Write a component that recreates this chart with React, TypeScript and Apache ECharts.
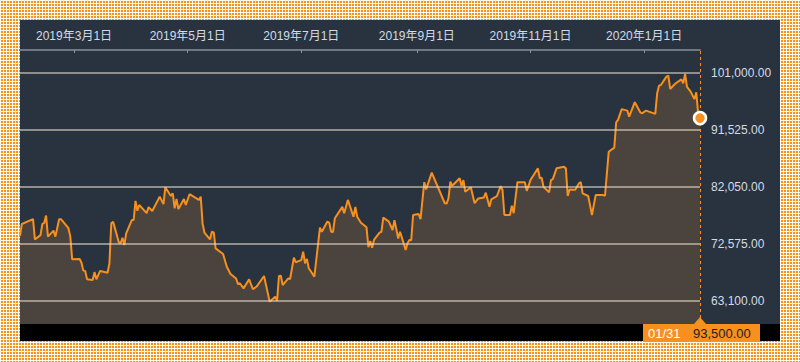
import React, { useEffect, useRef } from 'react';
import * as echarts from 'echarts';

const dates: string[] = [
  '2019-01-31','2019-02-01','2019-02-07','2019-02-08','2019-02-11','2019-02-12','2019-02-13','2019-02-14','2019-02-15','2019-02-18',
  '2019-02-19','2019-02-21','2019-02-22','2019-02-26','2019-02-27','2019-02-28','2019-03-04','2019-03-05','2019-03-06','2019-03-07',
  '2019-03-08','2019-03-11','2019-03-12','2019-03-13','2019-03-15','2019-03-19','2019-03-20','2019-03-21','2019-03-22','2019-03-25',
  '2019-03-26','2019-03-27','2019-03-28','2019-03-29','2019-04-01','2019-04-02','2019-04-03','2019-04-04','2019-04-05','2019-04-09',
  '2019-04-10','2019-04-12','2019-04-16','2019-04-18','2019-04-19','2019-04-22','2019-04-23','2019-04-24','2019-04-25','2019-04-26',
  '2019-04-29','2019-04-30','2019-05-02','2019-05-07','2019-05-08','2019-05-09','2019-05-10','2019-05-13','2019-05-14','2019-05-15',
  '2019-05-16','2019-05-20','2019-05-22','2019-05-24','2019-05-27','2019-05-28','2019-05-29','2019-05-31','2019-06-03','2019-06-05',
  '2019-06-07','2019-06-11','2019-06-14','2019-06-15','2019-06-17','2019-06-18','2019-06-19','2019-06-20','2019-06-21','2019-06-24',
  '2019-06-25','2019-06-27','2019-06-28','2019-07-01','2019-07-02','2019-07-03','2019-07-04','2019-07-05','2019-07-08','2019-07-11',
  '2019-07-12','2019-07-15','2019-07-16','2019-07-17','2019-07-18','2019-07-19','2019-07-23','2019-07-24','2019-07-26','2019-07-29',
  '2019-07-30','2019-07-31','2019-08-02','2019-08-05','2019-08-06','2019-08-07','2019-08-08','2019-08-09','2019-08-12','2019-08-13',
  '2019-08-14','2019-08-17','2019-08-19','2019-08-20','2019-08-22','2019-08-23','2019-08-26','2019-08-27','2019-08-28','2019-08-29',
  '2019-08-30','2019-09-02','2019-09-03','2019-09-05','2019-09-06','2019-09-09','2019-09-16','2019-09-17','2019-09-18','2019-09-19',
  '2019-09-20','2019-09-24','2019-09-25','2019-09-26','2019-09-27','2019-09-30','2019-10-02','2019-10-04','2019-10-07','2019-10-08',
  '2019-10-10','2019-10-11','2019-10-14','2019-10-16','2019-10-17','2019-10-18','2019-10-21','2019-10-22','2019-10-23','2019-10-25',
  '2019-10-29','2019-10-30','2019-11-01','2019-11-05','2019-11-06','2019-11-07','2019-11-08','2019-11-11','2019-11-12','2019-11-13',
  '2019-11-15','2019-11-19','2019-11-20','2019-11-21','2019-11-22','2019-11-25','2019-11-27','2019-11-28','2019-11-29','2019-12-02',
  '2019-12-04','2019-12-06','2019-12-10','2019-12-11','2019-12-13','2019-12-16','2019-12-17','2019-12-18','2019-12-20','2019-12-23',
  '2019-12-24','2019-12-27','2019-12-30','2019-12-31','2020-01-02','2020-01-07','2020-01-08','2020-01-09','2020-01-10','2020-01-13',
  '2020-01-14','2020-01-15','2020-01-17','2020-01-18','2020-01-21','2020-01-22','2020-01-23','2020-01-24','2020-01-26','2020-01-28',
  '2020-01-29','2020-01-30','2020-01-31'
];

const values: number[] = [
  73900,75900,76700,73350,74050,75900,76100,77300,73800,74800,
  73800,76700,76700,75200,73800,70050,70100,69450,68150,68100,
  66700,66600,67900,66700,68100,67800,69350,76000,76250,72900,
  72700,73600,72400,74350,76550,76550,79750,78100,79050,77700,
  78700,78050,80450,79200,82000,80550,81000,78500,80050,78400,
  80050,79050,80850,79900,80450,76000,74450,73350,74600,74500,
  71850,70900,68800,67600,66850,65900,66050,65200,66700,65050,
  65500,67250,63000,63250,63800,63150,67250,67300,65750,66850,
  66750,70300,69550,69900,71300,69350,70100,68550,67150,75300,
  74600,76300,76100,74600,74550,76850,78750,77700,79900,77100,
  78750,77100,76100,75350,72050,73050,71950,73250,74450,74600,
  76950,76300,74900,76550,73500,74600,71600,72700,73250,73200,
  77400,77550,76700,82850,81650,84450,79350,79300,80150,82950,
  82250,83500,82200,83200,81250,82000,79350,80150,80300,81100,
  78750,80000,80550,82200,81550,77400,77400,78950,77700,82850,
  82850,81400,83200,85150,83500,83600,82100,81150,83200,83350,
  85150,85400,85150,80550,81650,81600,82650,82850,81000,80550,
  77400,80700,80700,80600,87900,88600,92800,93200,95000,94750,
  93750,96150,94450,94300,94750,94200,97600,98900,99000,100400,
  100550,98350,99000,99300,99950,99300,100850,98700,97900,96650,
  97800,94300,93500
];

const gridValues: number[] = [63100, 72575, 82050, 91525, 101000];
const tickDates: string[] = ['2019-03-01', '2019-05-01', '2019-07-01', '2019-09-01', '2019-11-01', '2020-01-01'];
const xStart = '2019-01-31';
const xEnd = '2020-01-31';
const yMin = 59276;
const yMax = 104824;

const ORANGE = '#f7901e';
const FONT = '"Liberation Sans", "Noto Sans CJK JP", sans-serif';

function ts(s: string): number {
  const [y, m, d] = s.split('-').map(Number);
  return new Date(y, m - 1, d).getTime();
}
function fmtNum(v: number): string {
  return v.toLocaleString('en-US', { minimumFractionDigits: 2, maximumFractionDigits: 2 });
}
function fmtDateJP(v: number): string {
  const d = new Date(v);
  return `${d.getFullYear()}年${d.getMonth() + 1}月${d.getDate()}日`;
}

export default function App() {
  const ref = useRef<HTMLDivElement>(null);
  useEffect(() => {
    if (!ref.current) return;
    const chart = echarts.init(ref.current, undefined, { renderer: 'svg' });
    const seriesData = dates.map((d, i) => [ts(d), values[i]]);
    const lastDate = dates[dates.length - 1];
    const lastValue = values[values.length - 1];
    const [, lm, ld] = lastDate.split('-');
    const tickVals = tickDates.map(ts);

    chart.setOption({
      animation: false,
      backgroundColor: 'transparent',
      grid: { left: 20, right: 100, top: 50, bottom: 38 },
      xAxis: {
        type: 'value',
        position: 'top',
        min: ts(xStart),
        max: ts(xEnd),
        axisLine: { show: true, lineStyle: { color: '#6f7882', width: 2 } },
        axisTick: { show: true, inside: true, length: 3, customValues: tickVals, lineStyle: { color: '#8a929b', width: 1 } },
        axisLabel: {
          show: true,
          customValues: tickVals,
          formatter: (v: number) => fmtDateJP(v),
          color: '#d2dce8',
          fontSize: 12,
          fontFamily: FONT,
          margin: 8,
        },
        splitLine: { show: false },
      },
      yAxis: {
        type: 'value',
        min: yMin,
        max: yMax,
        show: false,
        splitLine: { show: false },
      },
      series: [
        {
          type: 'line',
          data: seriesData,
          showSymbol: false,
          symbol: 'none',
          lineStyle: { color: ORANGE, width: 2 },
          itemStyle: { color: ORANGE },
          areaStyle: { color: '#4a433e', opacity: 1, origin: 'start' },
          z: 3,
          markLine: {
            silent: true,
            symbol: ['none', 'none'],
            animation: false,
            data: [
              ...gridValues.map((v) => ({
                yAxis: v,
                lineStyle: { color: 'rgba(232,218,204,0.55)', width: 2, type: 'solid' },
                label: {
                  show: true,
                  position: 'end',
                  distance: 11,
                  formatter: () => fmtNum(v),
                  color: '#d2dce8',
                  fontSize: 12,
                  fontFamily: FONT,
                },
              })),
              {
                xAxis: ts(lastDate),
                lineStyle: { color: ORANGE, width: 1, type: [3, 3] },
                label: { show: false },
              },
            ],
          },
        },
        {
          type: 'scatter',
          data: [[ts(lastDate), lastValue]],
          symbol: 'circle',
          symbolSize: 12,
          itemStyle: { color: ORANGE, borderColor: '#ffffff', borderWidth: 2.5, opacity: 1 },
          z: 10,
        },
      ],
      graphic: [
        { type: 'rect', z: -10, silent: true, shape: { x: 20, y: 20, width: 760, height: 321 }, style: { fill: '#29333f' } },
        { type: 'rect', z: 100, silent: true, shape: { x: 20, y: 324, width: 760, height: 17 }, style: { fill: '#000000' } },
        { type: 'polygon', z: 101, silent: true, shape: { points: [[694, 324], [700, 317], [706, 324]] }, style: { fill: ORANGE } },
        { type: 'rect', z: 101, silent: true, shape: { x: 643, y: 324, width: 117, height: 18 }, style: { fill: ORANGE } },
        {
          type: 'text', z: 102, silent: true, x: 648, y: 333,
          style: { text: `${lm}/${ld}`, fill: '#ffffff', fontSize: 13, fontFamily: FONT, verticalAlign: 'middle', align: 'left' },
        },
        {
          type: 'text', z: 102, silent: true, x: 693, y: 333,
          style: { text: fmtNum(lastValue), fill: '#1e1e1e', fontSize: 13, fontFamily: FONT, verticalAlign: 'middle', align: 'left' },
        },
      ],
    });
    return () => chart.dispose();
  }, []);

  return (
    <div
      style={{
        position: 'absolute',
        left: 0,
        top: 0,
        width: 800,
        height: 362,
        backgroundColor: '#f7901e',
        backgroundImage:
          'linear-gradient(to right, #fffbea 1px, transparent 1px), linear-gradient(to bottom, #fffbea 1px, transparent 1px)',
        backgroundSize: '3px 3px',
      }}
    >
      <div ref={ref} style={{ width: 800, height: 362 }} />
    </div>
  );
}
